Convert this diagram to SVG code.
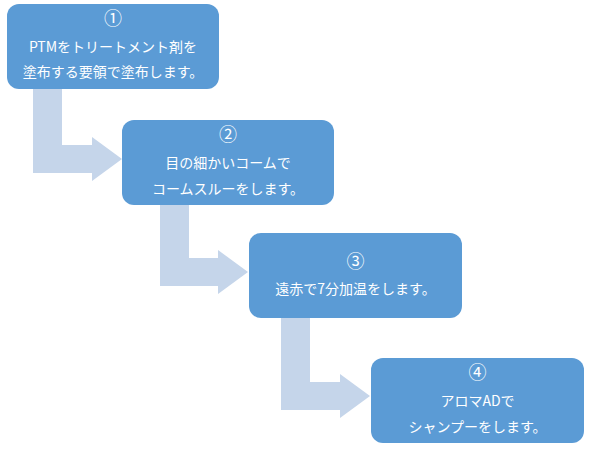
<svg xmlns="http://www.w3.org/2000/svg" width="590" height="453" viewBox="0 0 590 453">
<style>
.box{fill:#5B9BD5;}
.arr{fill:#C5D5EA;}
.t{font-family:"Noto Sans CJK JP","Noto Sans",sans-serif;font-size:14px;fill:#FFFFFF;text-anchor:middle;}
.n{font-size:18px;}
</style>
<rect width="590" height="453" fill="#FFFFFF"/>
<g id="connectors">
<path class="arr" d="M33,89 H62 V145 H92 V137 L122,159 L92,181 V173 H33 Z"/>
<path class="arr" d="M160,205 H189 V258 H218 V250 L248,272 L218,294 V286 H160 Z"/>
<path class="arr" d="M281,318 H310 V382 H340 V374 L370,396 L340,418 V410 H281 Z"/>
</g>
<g id="step1">
<rect class="box" x="7" y="4" width="212" height="85" rx="12"/>
<text class="t n" x="113" y="25">①</text>
<text class="t" x="113" y="52">PTMをトリートメント剤を</text>
<text class="t" x="113" y="77">塗布する要領で塗布します。</text>
</g>
<g id="step2">
<rect class="box" x="122" y="120" width="212" height="85" rx="12"/>
<text class="t n" x="228" y="141">②</text>
<text class="t" x="228" y="168">目の細かいコームで</text>
<text class="t" x="228" y="194">コームスルーをします。</text>
</g>
<g id="step3">
<rect class="box" x="249" y="233" width="213" height="85" rx="12"/>
<text class="t n" x="355.5" y="268">③</text>
<text class="t" x="355.5" y="294">遠赤で7分加温をします。</text>
</g>
<g id="step4">
<rect class="box" x="371" y="358" width="213" height="85" rx="12"/>
<text class="t n" x="477.5" y="379">④</text>
<text class="t" x="477.5" y="406">アロマADで</text>
<text class="t" x="477.5" y="432">シャンプーをします。</text>
</g>
</svg>
